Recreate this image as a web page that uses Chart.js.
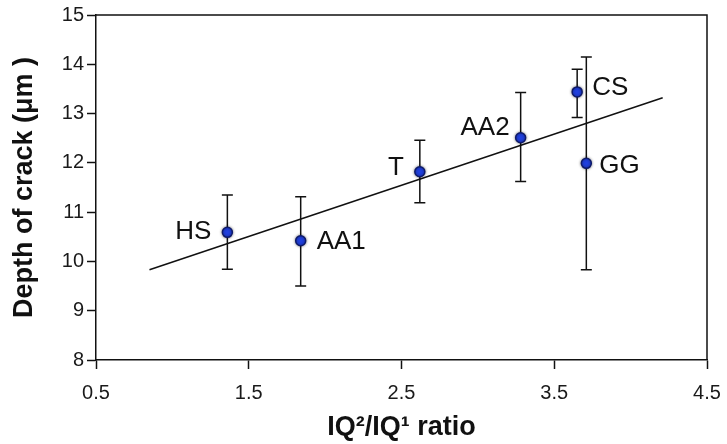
<!DOCTYPE html>
<html>
<head>
<meta charset="utf-8">
<script src="https://cdn.jsdelivr.net/npm/chart.js@4.4.1/dist/chart.umd.min.js"></script>
<style>
  body { margin: 0; background: #fff; }
  .chart-box { width: 727px; height: 444px; position: relative; }
</style>
</head>
<body>
<div class="chart-box"><canvas id="crackChart"></canvas></div>
<script>
// values
const samples = ["HS", "AA1", "T", "AA2", "CS", "GG"];
const ratio   = [1.36, 1.84, 2.62, 3.28, 3.65, 3.71];
const depth   = [10.59, 10.42, 11.82, 12.51, 13.44, 11.99];
const errHigh = [11.35, 11.31, 12.46, 13.43, 13.90, 14.15];
const errLow  = [9.84, 9.50, 11.19, 11.62, 12.92, 9.83];

const trendX = [0.85, 4.21];
const trendY = [9.83, 13.32];

const xTicks = [0.5, 1.5, 2.5, 3.5, 4.5];
const yTicks = [8, 9, 10, 11, 12, 13, 14, 15];

// where each sample label sits next to its point (px)
const labelPos = {
  HS:  { dx: -16, dy: -1, align: "right" },
  AA1: { dx: 16,  dy: 1,  align: "left" },
  T:   { dx: -16, dy: -4, align: "right" },
  AA2: { dx: -11, dy: -10, align: "right" },
  CS:  { dx: 15,  dy: -4, align: "left" },
  GG:  { dx: 13,  dy: 2,  align: "left" }
};

const FONT = "'Liberation Sans', Arial, Helvetica, sans-serif";

const errorBars = {
  id: "errorBars",
  beforeDatasetsDraw(chart) {
    const { ctx, scales: { x, y } } = chart;
    ctx.save();
    ctx.strokeStyle = "#111";
    ctx.lineWidth = 1.5;
    ratio.forEach((r, i) => {
      const px = x.getPixelForValue(r);
      const top = y.getPixelForValue(errHigh[i]);
      const bot = y.getPixelForValue(errLow[i]);
      ctx.beginPath();
      ctx.moveTo(px, top); ctx.lineTo(px, bot);
      ctx.moveTo(px - 5.5, top); ctx.lineTo(px + 5.5, top);
      ctx.moveTo(px - 5.5, bot); ctx.lineTo(px + 5.5, bot);
      ctx.stroke();
    });
    ctx.restore();
  },
  beforeDatasetDraw(chart, args) {
    if (args.index === 0) {
      chart.ctx.save();
      chart.ctx.shadowColor = "rgba(0,0,0,0.45)";
      chart.ctx.shadowBlur = 3;
    }
  },
  afterDatasetDraw(chart, args) {
    if (args.index === 0) chart.ctx.restore();
  },
  afterDatasetsDraw(chart) {
    const { ctx, chartArea, scales: { x, y } } = chart;
    ctx.save();
    // box around the plot
    ctx.strokeStyle = "#111";
    ctx.lineWidth = 1.5;
    ctx.beginPath();
    ctx.moveTo(chartArea.left, chartArea.top);
    ctx.lineTo(chartArea.right, chartArea.top);
    ctx.lineTo(chartArea.right, chartArea.bottom);
    ctx.stroke();
    // sample names
    ctx.fillStyle = "#111";
    ctx.font = "26px " + FONT;
    ctx.textBaseline = "middle";
    samples.forEach((s, i) => {
      const p = labelPos[s];
      ctx.textAlign = p.align;
      ctx.fillText(s, x.getPixelForValue(ratio[i]) + p.dx, y.getPixelForValue(depth[i]) + p.dy);
    });
    ctx.restore();
  }
};

const ctx = document.getElementById("crackChart").getContext("2d");
new Chart(ctx, {
  type: "scatter",
  data: {
    datasets: [{
      label: "Depth",
      data: ratio.map((r, i) => ({ x: r, y: depth[i] })),
      pointRadius: 5,
      pointBackgroundColor: "#2040e0",
      pointBorderColor: "#0e1a6a",
      pointBorderWidth: 1.5
    }, {
      label: "Trend",
      data: trendX.map((t, i) => ({ x: t, y: trendY[i] })),
      showLine: true,
      borderColor: "#111",
      borderWidth: 1.5,
      pointRadius: 0
    }]
  },
  options: {
    responsive: true,
    maintainAspectRatio: false,
    animation: false,
    layout: { padding: { left: 0, top: 15, right: 20, bottom: 0 } },
    plugins: { legend: { display: false }, tooltip: { enabled: false } },
    scales: {
      x: {
        type: "linear",
        min: 0.5,
        max: 4.5,
        afterBuildTicks: s => { s.ticks = xTicks.map(v => ({ value: v })); },
        afterFit: s => { s.height = 84; s.paddingLeft = 0; s.paddingRight = 0; },
        border: { color: "#111", width: 1.5 },
        grid: { drawOnChartArea: false, tickLength: 9, tickColor: "#111", tickWidth: 1.5 },
        ticks: { color: "#1a1a1a", font: { family: FONT, size: 20 }, padding: 12,
                 callback: v => v.toFixed(1) },
        title: { display: true, text: "IQ²/IQ¹ ratio", color: "#111",
                 font: { family: FONT, size: 27, weight: "bold" }, padding: { top: 0, bottom: 0 } }
      },
      y: {
        min: 8,
        max: 15,
        afterBuildTicks: s => { s.ticks = yTicks.map(v => ({ value: v })); },
        afterFit: s => { s.width = 96; s.paddingTop = 0; s.paddingBottom = 0; },
        border: { color: "#111", width: 1.5 },
        grid: { drawOnChartArea: false, tickLength: 9, tickColor: "#111", tickWidth: 1.5 },
        ticks: { color: "#1a1a1a", font: { family: FONT, size: 20 }, padding: 3 },
        title: { display: true, text: "Depth of crack (μm )", color: "#111",
                 font: { family: FONT, size: 27, weight: "bold" }, padding: { top: 8, bottom: 0 } }
      }
    }
  },
  plugins: [errorBars]
});
</script>
</body>
</html>
